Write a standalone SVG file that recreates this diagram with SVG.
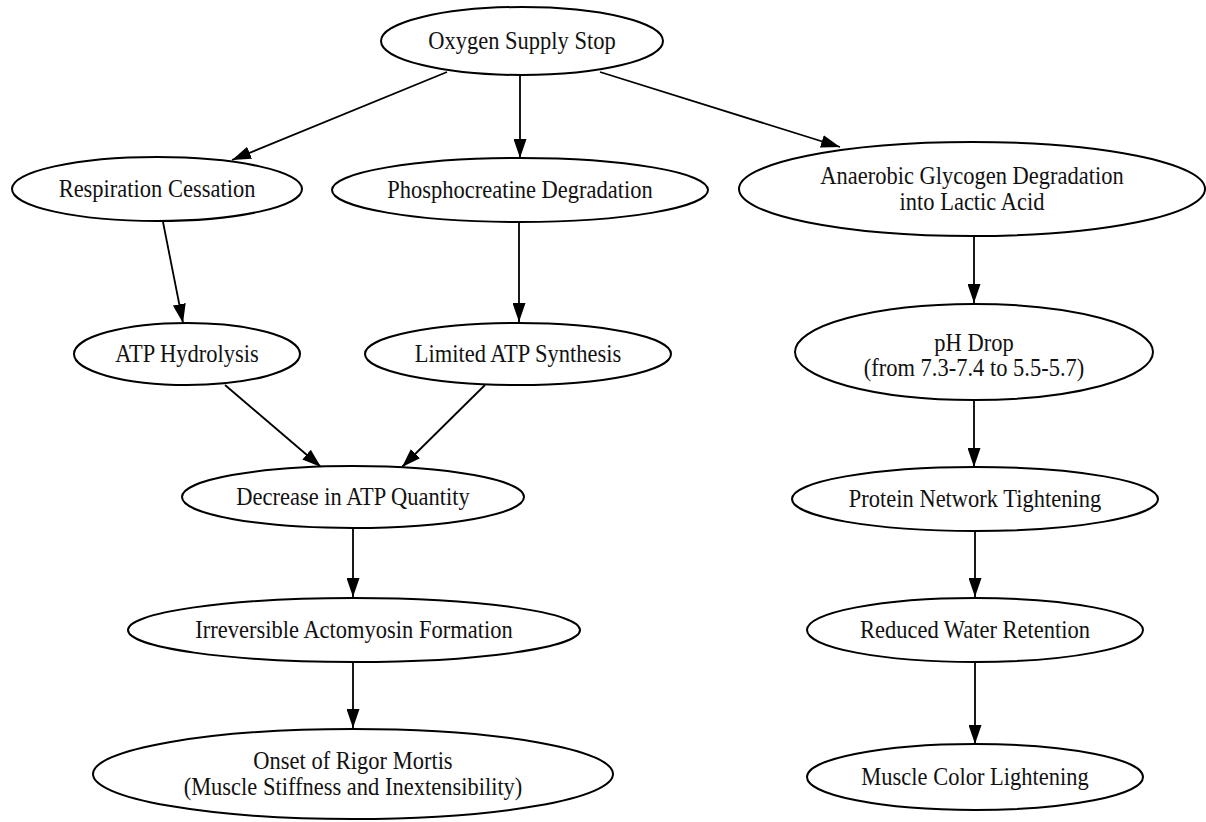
<svg xmlns="http://www.w3.org/2000/svg" width="1206" height="822" viewBox="0 0 1206 822">
  <style>
    .node ellipse { fill: #ffffff; stroke: #000000; stroke-width: 2; }
    .node text { font-family: "Liberation Serif", "Times New Roman", serif; font-size: 22.5px; fill: #111111; text-anchor: middle; }
    .edge { stroke: #000000; stroke-width: 1.8; fill: none; marker-end: url(#arrow); }
  </style>
  <defs>
    <marker id="arrow" markerUnits="userSpaceOnUse" markerWidth="19" markerHeight="13" refX="19" refY="6.5" orient="auto">
      <path d="M0,0 L19,6.5 L0,13 Z" fill="#000000"/>
    </marker>
  </defs>
  <rect width="1206" height="822" fill="#ffffff"/>

  <!-- connectors -->
  <g id="edges">
    <line class="edge" x1="447" y1="72" x2="232" y2="160"/>
    <line class="edge" x1="520" y1="75" x2="520" y2="158"/>
    <line class="edge" x1="600" y1="72" x2="840" y2="147"/>
    <line class="edge" x1="163" y1="222" x2="183" y2="323"/>
    <line class="edge" x1="519" y1="222" x2="519" y2="322"/>
    <line class="edge" x1="974" y1="237" x2="974" y2="303"/>
    <line class="edge" x1="225" y1="385" x2="321" y2="467"/>
    <line class="edge" x1="485" y1="385" x2="402" y2="467"/>
    <line class="edge" x1="974" y1="400" x2="974" y2="467"/>
    <line class="edge" x1="353" y1="528" x2="353" y2="597"/>
    <line class="edge" x1="975" y1="532" x2="975" y2="597"/>
    <line class="edge" x1="353" y1="662" x2="353" y2="728"/>
    <line class="edge" x1="975" y1="662" x2="975" y2="744"/>
  </g>

  <!-- labels are stretched slightly taller than wide -->
  <g id="oxygen_supply_stop" class="node">
    <ellipse cx="522" cy="41" rx="141" ry="34"/>
    <text transform="matrix(1 0 0 1.12 522 48.5)">Oxygen Supply Stop</text>
  </g>
  <g id="respiration_cessation" class="node">
    <ellipse cx="157" cy="189" rx="145" ry="32"/>
    <text transform="matrix(1 0 0 1.12 157 196.5)">Respiration Cessation</text>
  </g>
  <g id="phosphocreatine_degradation" class="node">
    <ellipse cx="520" cy="190" rx="188" ry="32"/>
    <text transform="matrix(1 0 0 1.12 520 197.5)">Phosphocreatine Degradation</text>
  </g>
  <g id="anaerobic_glycogen" class="node">
    <ellipse cx="972" cy="189" rx="233" ry="47"/>
    <text transform="matrix(1 0 0 1.12 972 184)">Anaerobic Glycogen Degradation</text>
    <text transform="matrix(1 0 0 1.12 972 210)">into Lactic Acid</text>
  </g>
  <g id="atp_hydrolysis" class="node">
    <ellipse cx="187" cy="354" rx="113" ry="31"/>
    <text transform="matrix(1 0 0 1.12 187 361.5)">ATP Hydrolysis</text>
  </g>
  <g id="limited_atp_synthesis" class="node">
    <ellipse cx="518" cy="354" rx="153" ry="31"/>
    <text transform="matrix(1 0 0 1.12 518 361.5)">Limited ATP Synthesis</text>
  </g>
  <g id="ph_drop" class="node">
    <ellipse cx="974" cy="352" rx="179" ry="48"/>
    <text transform="matrix(1 0 0 1.12 974 351)">pH Drop</text>
    <text transform="matrix(1 0 0 1.12 974 376)">(from 7.3-7.4 to 5.5-5.7)</text>
  </g>
  <g id="decrease_atp_quantity" class="node">
    <ellipse cx="353" cy="497" rx="171" ry="31"/>
    <text transform="matrix(1 0 0 1.12 353 504.5)">Decrease in ATP Quantity</text>
  </g>
  <g id="protein_network_tightening" class="node">
    <ellipse cx="975" cy="499" rx="183" ry="32"/>
    <text transform="matrix(1 0 0 1.12 975 506.5)">Protein Network Tightening</text>
  </g>
  <g id="irreversible_actomyosin" class="node">
    <ellipse cx="354" cy="630" rx="226" ry="32"/>
    <text transform="matrix(1 0 0 1.12 354 637.5)">Irreversible Actomyosin Formation</text>
  </g>
  <g id="reduced_water_retention" class="node">
    <ellipse cx="975" cy="630" rx="168" ry="32"/>
    <text transform="matrix(1 0 0 1.12 975 637.5)">Reduced Water Retention</text>
  </g>
  <g id="onset_rigor_mortis" class="node">
    <ellipse cx="353" cy="774" rx="260" ry="45"/>
    <text transform="matrix(1 0 0 1.12 353 769)">Onset of Rigor Mortis</text>
    <text transform="matrix(1 0 0 1.12 353 795)">(Muscle Stiffness and Inextensibility)</text>
  </g>
  <g id="muscle_color_lightening" class="node">
    <ellipse cx="975" cy="777" rx="168" ry="33"/>
    <text transform="matrix(1 0 0 1.12 975 784.5)">Muscle Color Lightening</text>
  </g>
</svg>
